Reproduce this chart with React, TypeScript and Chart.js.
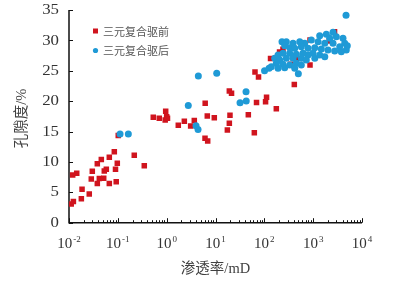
import React, { useEffect, useRef } from "react";
import { Chart, registerables } from "chart.js";

Chart.register(...registerables);

// ---- data ----
const redLabel = "三元复合驱前";
const blueLabel = "三元复合驱后";
const xTitle = "渗透率/mD";
const yTitle = "孔隙度/%";

const redK = [
  0.0111, 0.0123, 0.0179, 0.0185, 0.026, 0.0119, 0.0144, 0.0286, 0.03, 0.038, 0.038, 0.0459, 0.0418,
  0.0514, 0.0528, 0.0581, 0.0669, 0.0669, 0.0847, 0.0896, 0.0975, 0.0927, 0.217, 0.348, 0.102,
  0.532, 0.706, 0.955, 1.0, 0.933, 1.04, 1.73, 2.3, 3.1, 3.68, 6.15, 6.79, 9.45, 6.1, 6.92, 19.2,
  21.3, 19.8, 19.2, 17.5, 47.0, 62.4, 69.2, 106, 111, 176, 64.4, 76.0, 411, 134, 205, 241, 344, 456,
  862, 862, 2140, 2740,
];
const redPhi = [
  3.08, 3.49, 3.95, 5.5, 4.72, 7.85, 8.13, 7.19, 8.46, 6.45, 9.69, 10.4, 7.27, 7.31, 8.51, 8.8, 6.45,
  10.76, 11.67, 8.79, 9.77, 6.75, 11.09, 9.38, 14.35,
  17.34, 17.18, 18.35, 17.44, 16.9, 17.18, 16.04, 16.7, 15.91, 16.82, 19.65, 17.56, 17.28, 13.89,
  13.44, 21.67, 21.29, 17.69, 16.36, 15.25, 17.76, 14.81, 19.78, 19.91, 20.64, 18.76, 24.8, 23.98,
  22.74, 27.02, 28.09, 28.53, 26.07, 26.94, 25.95, 30.06, 29.9, 31.41,
];
const blueK = [
  0.111, 0.164, 2.77, 3.99, 4.39, 4.45, 10.6, 31.8, 42.6, 42.2, 4710, 497, 101, 125,
  1360, 1860, 2550, 2980, 2180, 4080, 4430, 5000, 4770, 3500, 2550, 1730, 1260, 917, 671, 531, 387,
  282, 230, 261, 331, 419, 572, 785, 1080, 1470, 2010, 2760, 3770, 993, 1360, 785, 619, 452, 331,
  241, 191, 163, 207, 282, 387, 572, 724, 1080, 1730, 176, 241, 331, 452, 572, 139, 191, 261, 419,
];
const bluePhi = [
  14.6, 14.6, 19.29, 15.95, 15.34, 24.14, 24.58, 19.73, 20.03, 21.56, 34.13, 24.52, 25.0, 25.41,
  30.77, 31.0, 31.33, 30.61, 30.34, 30.34, 29.52, 29.13, 28.42, 28.96, 29.52, 29.52, 29.78, 30.06,
  29.52, 29.78, 29.52, 29.78, 29.78, 29.13, 28.8, 28.7, 28.96, 28.7, 28.8, 28.58, 28.42, 28.25,
  28.14, 27.88, 27.6, 27.6, 27.88, 27.71, 27.88, 27.88, 27.6, 27.05, 26.77, 27.05, 27.05, 27.05,
  26.77, 27.05, 27.32, 26.23, 26.07, 25.95, 26.23, 25.95, 25.67, 25.41, 25.51, 25.41,
];
const xExponents = [-2, -1, 0, 1, 2, 3, 4];
const yTicks = [0, 5, 10, 15, 20, 25, 30, 35];

const RED = "#d0141e";
const BLUE = "#1f9ad6";
const SERIF = '"Liberation Serif", "Noto Sans CJK SC", serif';
const TEXT = "#333333";

function toSup(e: number): string {
  return e < 0 ? "-" + String(-e) : String(e);
}

const axesPlugin = {
  id: "customAxes",
  beforeDatasetsDraw(chart: any) {
    const ctx = chart.ctx as CanvasRenderingContext2D;
    const xs = chart.scales.x;
    const ys = chart.scales.y;
    const left = xs.getPixelForValue(0.01);
    const right = xs.getPixelForValue(10000);
    const bottom = ys.getPixelForValue(0);
    const top = ys.getPixelForValue(35);
    ctx.save();
    ctx.strokeStyle = "#111";
    ctx.lineWidth = 1.5;
    ctx.beginPath();
    ctx.moveTo(left, top);
    ctx.lineTo(left, bottom);
    ctx.lineTo(right, bottom);
    ctx.stroke();
    // y ticks (inward)
    ctx.lineWidth = 1;
    ctx.beginPath();
    for (const v of yTicks) {
      const py = Math.round(ys.getPixelForValue(v)) + 0.5;
      ctx.moveTo(left, py);
      ctx.lineTo(left + 4, py);
    }
    // x ticks (inward, major + minor)
    for (let e = -2; e <= 3; e++) {
      for (let k = 1; k <= 9; k++) {
        const v = k * Math.pow(10, e);
        const px = Math.round(xs.getPixelForValue(v)) + 0.5;
        const len = k === 1 ? 4.5 : 2.5;
        ctx.moveTo(px, bottom);
        ctx.lineTo(px, bottom - len);
      }
    }
    {
      const px = Math.round(xs.getPixelForValue(10000)) + 0.5;
      ctx.moveTo(px, bottom);
      ctx.lineTo(px, bottom - 4.5);
    }
    ctx.stroke();

    // y labels
    ctx.fillStyle = TEXT;
    ctx.font = "14px " + SERIF;
    ctx.textAlign = "right";
    ctx.textBaseline = "middle";
    for (const v of yTicks) {
      const py = ys.getPixelForValue(v);
      ctx.save();
      ctx.translate(left - 10, py + 0.5);
      ctx.scale(1.2, 1);
      ctx.fillText(String(v), 0, 0);
      ctx.restore();
    }
    // x labels with superscripts
    ctx.textAlign = "left";
    ctx.textBaseline = "alphabetic";
    for (const e of xExponents) {
      const px = xs.getPixelForValue(Math.pow(10, e));
      ctx.font = "15px " + SERIF;
      const wBase = ctx.measureText("10").width;
      ctx.font = "9px " + SERIF;
      const sup = toSup(e);
      const wSup = ctx.measureText(sup).width;
      const start = px - (wBase + wSup + 1) / 2;
      ctx.font = "15px " + SERIF;
      ctx.fillText("10", start, 248);
      ctx.font = "9px " + SERIF;
      ctx.fillText(sup, start + wBase + 1, 242);
    }
    // axis titles
    ctx.font = "14.5px " + SERIF;
    ctx.textAlign = "center";
    ctx.textBaseline = "middle";
    ctx.fillStyle = "#404040";
    ctx.fillText(xTitle, (left + right) / 2, 269);
    ctx.save();
    ctx.translate(22, (top + bottom) / 2 + 2);
    ctx.rotate(-Math.PI / 2);
    ctx.fillText(yTitle, 0, 0);
    ctx.restore();

    // legend
    ctx.fillStyle = RED;
    ctx.fillRect(93, 28.5, 5, 5);
    ctx.fillStyle = BLUE;
    ctx.beginPath();
    ctx.arc(95.5, 50.5, 2.6, 0, Math.PI * 2);
    ctx.fill();
    ctx.font = '11px "Noto Sans CJK SC", sans-serif';
    ctx.fillStyle = "#555555";
    ctx.textAlign = "left";
    ctx.textBaseline = "middle";
    ctx.fillText(redLabel, 103, 31.5);
    ctx.fillText(blueLabel, 103, 51);
    ctx.restore();
  },
};

export default function App() {
  const ref = useRef<HTMLCanvasElement | null>(null);
  useEffect(() => {
    if (!ref.current) return;
    const chart = new Chart(ref.current, {
      type: "scatter",
      data: {
        datasets: [
          {
            label: redLabel,
            data: redK.map((k, i) => ({ x: k, y: redPhi[i] })),
            pointStyle: "rect",
            pointRadius: 3.9,
            pointBorderWidth: 0,
            backgroundColor: RED,
            borderColor: RED,
            order: 2,
          },
          {
            label: blueLabel,
            data: blueK.map((k, i) => ({ x: k, y: bluePhi[i] })),
            pointStyle: "circle",
            pointRadius: 3.5,
            pointBorderWidth: 0,
            backgroundColor: BLUE,
            borderColor: BLUE,
            order: 1,
          },
        ],
      },
      options: {
        animation: false,
        responsive: false,
        layout: { padding: { left: 69, right: 39, top: 10, bottom: 62.3 } },
        scales: {
          x: { type: "logarithmic", min: 0.01, max: 10000, display: false },
          y: { type: "linear", min: 0, max: 35, display: false },
        },
        plugins: { legend: { display: false }, tooltip: { enabled: false } },
      },
      plugins: [axesPlugin],
    });
    return () => chart.destroy();
  }, []);
  return (
    <div style={{ position: "absolute", left: 0, top: 0, width: 401, height: 285, background: "#fff" }}>
      <canvas ref={ref} width={401} height={285} style={{ display: "block" }} />
    </div>
  );
}
